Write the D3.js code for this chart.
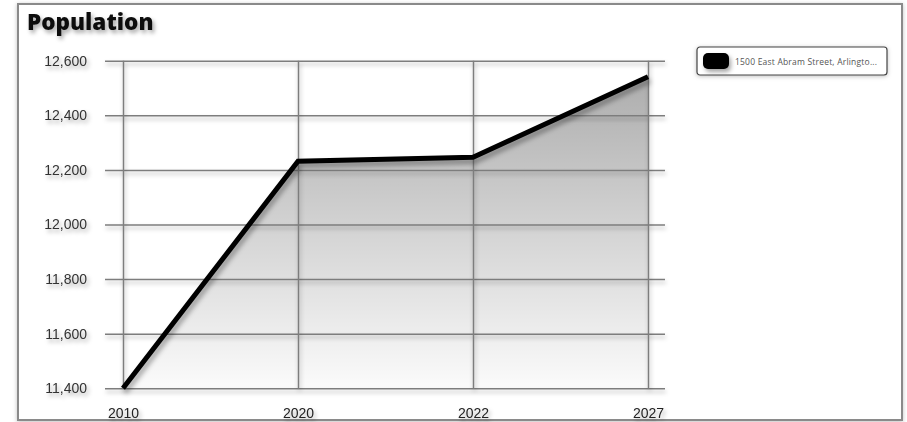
<!DOCTYPE html>
<html>
<head>
<meta charset="utf-8">
<script src="https://cdn.jsdelivr.net/npm/d3@7"></script>
<style>
    body { margin: 0; background: #fff; }
    #chart svg { display: block; }
</style>
</head>
<body>
<div id="chart"></div>
<script>
// Chart data
const years = ["2010", "2020", "2022", "2027"];
const population = [11400, 12232, 12246, 12541];
const yTicks = [11400, 11600, 11800, 12000, 12200, 12400, 12600];
const seriesName = "1500 East Abram Street, Arlingto...";
const chartTitle = "Population";

createAreaChart();

function createAreaChart() {
    const points = years.map(function(year, i) { return { year: year, value: population[i] }; });

    // Chart dimensions
    let dimensions = {
        width: 907,
        height: 422,
        plot: { left: 123, right: 648, top: 60.7, bottom: 388.3 },
        grid: { left: 105, right: 665 }
    };

    const svg = d3.select('#chart')
        .append('svg')
        .attr('width', dimensions.width)
        .attr('height', dimensions.height);

    const defs = svg.append('defs');

    // Drop shadows: big user space region so thin lines and
    // translated tick groups keep their shadow
    function addShadow(id, dx, dy, blur, opacity) {
        const f = defs.append('filter')
            .attr('id', id)
            .attr('filterUnits', 'userSpaceOnUse')
            .attr('x', -1000).attr('y', -1000)
            .attr('width', 3000).attr('height', 3000);
        f.append('feDropShadow')
            .attr('dx', dx).attr('dy', dy)
            .attr('stdDeviation', blur)
            .attr('flood-color', '#000')
            .attr('flood-opacity', opacity);
    }
    addShadow('shadow', 2, 3, 2, 0.35);
    addShadow('gridShadow', 1, 3, 2, 0.3);
    addShadow('lineShadow', 2, 4, 2.5, 0.35);
    addShadow('boxShadow', 0, 1, 2, 0.25);

    // Area gradient
    const grad = defs.append('linearGradient')
        .attr('id', 'areaFill')
        .attr('gradientUnits', 'userSpaceOnUse')
        .attr('x1', 0).attr('x2', 0)
        .attr('y1', dimensions.plot.top).attr('y2', dimensions.plot.bottom);
    grad.append('stop').attr('offset', '0%').attr('stop-color', '#a9a9a9');
    grad.append('stop').attr('offset', '100%').attr('stop-color', '#fbfbfb');

    // Outer frame
    svg.append('rect')
        .attr('x', 18).attr('y', 4)
        .attr('width', 884).attr('height', 416)
        .attr('fill', '#fff')
        .attr('stroke', '#8a8a8a')
        .attr('stroke-width', 2)
        .attr('filter', 'url(#boxShadow)');

    // Title
    svg.append('text')
        .attr('x', 27)
        .attr('y', 30)
        .attr('font-family', '"Open Sans", Lato, sans-serif')
        .attr('font-weight', 800)
        .attr('font-size', 22.5)
        .attr('fill', '#111')
        .attr('filter', 'url(#shadow)')
        .text(chartTitle);

    // Scales
    const x = d3.scalePoint()
        .domain(years)
        .range([dimensions.plot.left, dimensions.plot.right]);

    const y = d3.scaleLinear()
        .domain([d3.min(yTicks), d3.max(yTicks)])
        .range([dimensions.plot.bottom, dimensions.plot.top]);

    // Area under the line
    const area = d3.area()
        .x(function(d) { return x(d.year); })
        .y0(y(d3.min(yTicks)))
        .y1(function(d) { return y(d.value); });

    svg.append('path')
        .datum(points)
        .attr('d', area)
        .attr('fill', 'url(#areaFill)');

    // Horizontal grid + y labels
    const yAxis = d3.axisLeft(y)
        .tickValues(yTicks)
        .tickFormat(d3.format(','))
        .tickSize(-(dimensions.grid.right - dimensions.grid.left))
        .tickPadding(18);

    const yG = svg.append('g')
        .attr('transform', `translate(${dimensions.grid.left},0)`)
        .call(yAxis);
    yG.select('.domain').remove();
    yG.selectAll('line')
        .attr('stroke', '#7d7d7d')
        .attr('stroke-width', 1.5)
        .attr('filter', 'url(#gridShadow)');
    yG.selectAll('text')
        .attr('font-family', '"Liberation Sans", Arial, sans-serif')
        .attr('font-size', 14)
        .attr('fill', '#333')
        .attr('filter', 'url(#shadow)');

    // Vertical grid + x labels
    const xAxis = d3.axisBottom(x)
        .tickSize(-(dimensions.plot.bottom - dimensions.plot.top))
        .tickPadding(25);

    const xG = svg.append('g')
        .attr('transform', `translate(0,${dimensions.plot.bottom})`)
        .call(xAxis);
    xG.select('.domain').remove();
    xG.selectAll('line')
        .attr('stroke', '#7d7d7d')
        .attr('stroke-width', 1.5)
        .attr('filter', 'url(#gridShadow)');
    xG.selectAll('text')
        .attr('font-family', '"Liberation Sans", Arial, sans-serif')
        .attr('font-size', 14)
        .attr('fill', '#222')
        .attr('dy', '0.35em')
        .attr('filter', 'url(#shadow)');

    // Series line
    const line = d3.line()
        .x(function(d) { return x(d.year); })
        .y(function(d) { return y(d.value); });

    svg.append('path')
        .datum(points)
        .attr('d', line)
        .attr('fill', 'none')
        .attr('stroke', '#000')
        .attr('stroke-width', 5)
        .attr('stroke-linejoin', 'miter')
        .attr('filter', 'url(#lineShadow)');

    // Legend
    const legend = svg.append('g')
        .attr('class', 'legend')
        .attr('transform', 'translate(697,47)');

    legend.append('rect')
        .attr('width', 190).attr('height', 28)
        .attr('rx', 3)
        .attr('fill', '#fff')
        .attr('stroke', '#444')
        .attr('stroke-width', 1.2)
        .attr('filter', 'url(#boxShadow)');

    legend.append('rect')
        .attr('x', 6).attr('y', 6)
        .attr('width', 26).attr('height', 16)
        .attr('rx', 5)
        .attr('fill', '#000')
        .attr('filter', 'url(#shadow)');

    legend.append('text')
        .attr('x', 38)
        .attr('y', 17.5)
        .attr('font-family', '"Open Sans", Lato, sans-serif')
        .attr('font-size', 8.5)
        .attr('letter-spacing', 0.2)
        .attr('fill', '#555')
        .text(seriesName);
}
</script>
</body>
</html>
